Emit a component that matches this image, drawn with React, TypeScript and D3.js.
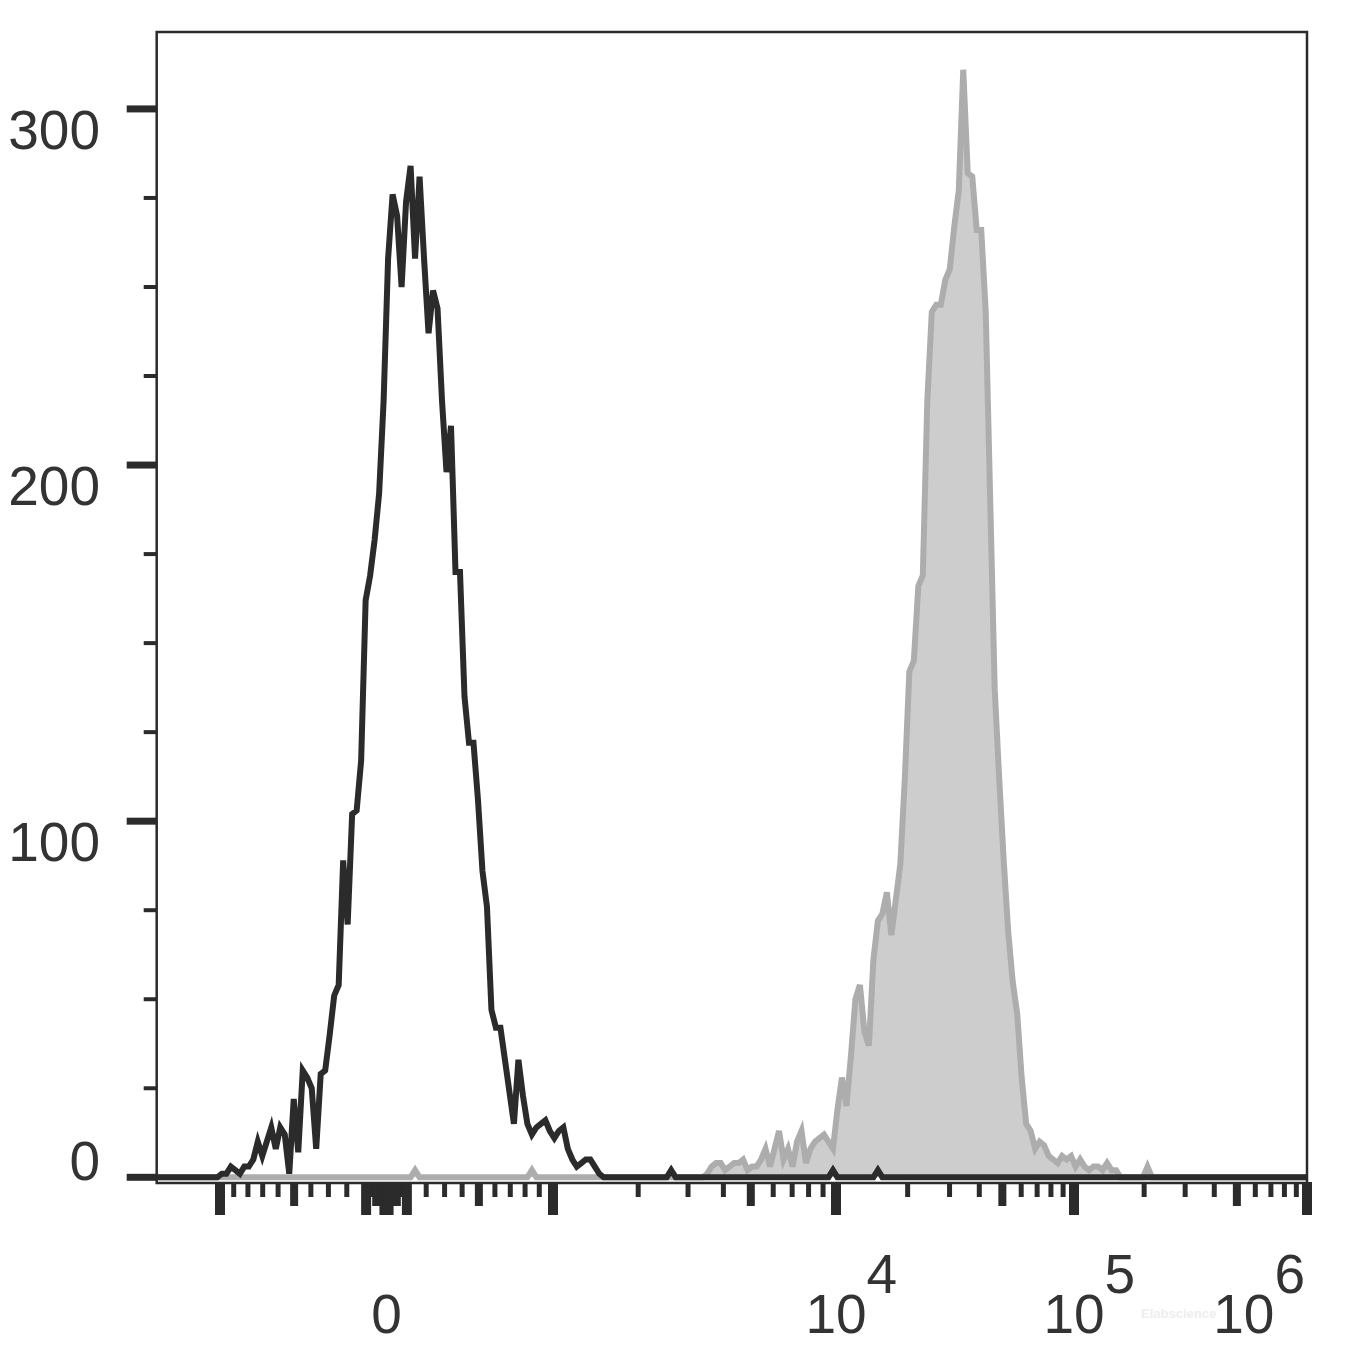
import React from "react";
import * as d3 from "d3";

// ---- data -----------------------------------------------------------
const CHANNELS = 256; // histogram bins, uniform in display (biexponential) space
const X_MIN = -2400;
const X_MAX = 1e6;
const Y_MIN = -1.6;
const Y_MAX = 321.6;

const yTickMajor = [0, 100, 200, 300];
const yTickMinor = [25, 50, 75, 125, 150, 175, 225, 250, 275];

const xMajor = [-1000, -100, -10, 0, 10, 100, 1000, 1e4, 1e5, 1e6];
const xMedium = [-500, -50, -5, 5, 50, 500, 5000, 5e4, 5e5];
const xMinorMultipliers = [2, 3, 4, 6, 7, 8, 9];
const xMinorDecades = [1, 10, 100, 1000, 1e4, 1e5];

const xLabels = [
  { value: 0, base: "0", exp: "" },
  { value: 1e4, base: "10", exp: "4" },
  { value: 1e5, base: "10", exp: "5" },
  { value: 1e6, base: "10", exp: "6" },
];

// unstained control (black outline) — counts from channel 14
const blackStart = 14;
const blackCounts = [
  1, 1, 3, 2, 1, 3, 3, 5, 10, 6, 10, 14, 8, 14, 12, 1, 22, 7, 30, 28,
  25, 8, 29, 30, 40, 51, 54, 89, 71, 102, 103, 117, 162, 169, 179, 192, 218, 258, 276, 270,
  250, 274, 284, 258, 281, 258, 237, 249, 244, 218, 198, 211, 170, 170, 135, 122, 122, 106, 86, 76,
  47, 42, 42, 33, 24, 15, 33, 23, 15, 12, 14, 15, 16, 13, 11, 13, 14, 8, 5, 3,
  4, 5, 5, 3, 1, 0,
];
const blackSparse: [number, number][] = [[114, 2], [150, 2], [160, 2]];

// stained sample (grey filled) — counts from channel 122
const grayStart = 122;
const grayCounts = [
  1, 3, 4, 4, 2, 3, 4, 4, 5, 2, 3, 3, 5, 8, 3, 8, 13, 5, 8, 3,
  10, 13, 4, 8, 10, 11, 12, 10, 8, 19, 28, 20, 34, 50, 54, 41, 37, 61, 72, 74,
  80, 68, 78, 88, 112, 142, 145, 166, 169, 218, 243, 245, 245, 252, 255, 267, 277, 311, 282, 281,
  266, 266, 243, 190, 137, 112, 89, 69, 55, 46, 28, 15, 13, 8, 10, 9, 6, 5, 4, 6,
  5, 6, 3, 5, 3, 2, 3, 3, 2, 4, 2, 2,
];
const graySparse: [number, number][] = [[57, 2], [83, 2], [220, 3]];

// ---- helpers --------------------------------------------------------
const LIN_C = 1800; // width of the near-linear region around zero
const LIN_NORM = Math.log1p(1000 / LIN_C);

// value -> display units (±1 = ±10^3, 2 = 10^4, 3 = 10^5, 4 = 10^6)
function biex(v: number): number {
  const a = Math.abs(v);
  const s = Math.sign(v);
  if (a <= 1000) return (s * Math.log1p(a / LIN_C)) / LIN_NORM;
  return s * (1 + Math.log10(a / 1000));
}

function fullCounts(start: number, arr: number[], sparse: [number, number][]) {
  const c = new Array(CHANNELS).fill(0);
  arr.forEach((v, i) => (c[start + i] = v));
  sparse.forEach(([ch, v]) => (c[ch] = v));
  return c;
}

export default function App() {
  const W = 1346;
  const H = 1348;
  const top = 32;
  const bottom = 1183;
  const ink = "#2b2b2b";

  const x = d3
    .scaleLinear()
    .domain([-1, 0, 1, 2, 3, 4])
    .range([220, 386.5, 553, 836, 1074, 1307]);
  const left = x(biex(X_MIN));
  const right = x(biex(X_MAX));
  const ch = d3.scaleLinear().domain([0, CHANNELS]).range([left, right]);
  const y = d3.scaleLinear().domain([Y_MIN, Y_MAX]).range([bottom, top]);

  const toPts = (counts: number[]) => {
    const pts: [number, number][] = [[0, 0]];
    counts.forEach((n, i) => pts.push([i + 0.5, n]));
    pts.push([CHANNELS, 0]);
    return pts;
  };
  const black = toPts(fullCounts(blackStart, blackCounts, blackSparse));
  const gray = toPts(fullCounts(grayStart, grayCounts, graySparse));

  const line = d3
    .line<[number, number]>()
    .x((d) => ch(d[0]))
    .y((d) => y(d[1]));
  const area = d3
    .area<[number, number]>()
    .x((d) => ch(d[0]))
    .y0(y(0))
    .y1((d) => y(d[1]));

  const minorVals: number[] = [];
  xMinorDecades.forEach((d) =>
    xMinorMultipliers.forEach((m) => {
      const v = m * d;
      if (v <= X_MAX) minorVals.push(v);
      if (-v >= -1000) minorVals.push(-v);
    })
  );

  const xTick = (v: number, len: number, w: number, key: string) => (
    <line
      key={key}
      x1={x(biex(v))}
      x2={x(biex(v))}
      y1={bottom - 1}
      y2={bottom + len}
      stroke={ink}
      strokeWidth={w}
    />
  );

  const fontFamily = "'Liberation Sans', Arial, Helvetica, sans-serif";
  const fs = 55;
  const tenW = 0.556 * fs * 2;
  const digitW = 0.556 * fs;

  return (
    <svg
      width={W}
      height={H}
      style={{ position: "absolute", left: 0, top: 0, display: "block", background: "#fff" }}
    >
      <rect x={0} y={0} width={W} height={H} fill="#fff" />

      {/* grey filled histogram */}
      <path d={area(gray) || ""} fill="#cdcdcd" stroke="none" />
      <path
        d={line(gray) || ""}
        fill="none"
        stroke="#adadad"
        strokeWidth={6}
        strokeLinejoin="miter"
      />
      {/* black outline histogram */}
      <path
        d={line(black) || ""}
        fill="none"
        stroke={ink}
        strokeWidth={6}
        strokeLinejoin="miter"
      />

      {/* frame */}
      <rect
        x={left}
        y={top}
        width={right - left}
        height={bottom - top}
        fill="none"
        stroke={ink}
        strokeWidth={2.5}
      />

      {/* y ticks */}
      {yTickMinor.map((v) => (
        <line key={"ym" + v} x1={left - 13} x2={left} y1={y(v)} y2={y(v)} stroke={ink} strokeWidth={4} />
      ))}
      {yTickMajor.map((v) => (
        <line key={"yM" + v} x1={left - 30} x2={left} y1={y(v)} y2={y(v)} stroke={ink} strokeWidth={7} />
      ))}
      {yTickMajor.map((v) => (
        <text
          key={"yl" + v}
          x={100}
          y={v === 0 ? y(v) + 3 : y(v) + 40}
          textAnchor="end"
          fontFamily={fontFamily}
          fontSize={fs}
          fill="#333"
        >
          {v}
        </text>
      ))}

      {/* x ticks */}
      {minorVals.map((v, i) => xTick(v, 14, 5, "xm" + i))}
      {xMedium.map((v, i) => xTick(v, 23, 8, "xd" + i))}
      {xMajor.map((v, i) => xTick(v, 32, 10, "xM" + i))}

      {/* x labels */}
      {xLabels.map((l) => {
        const px = x(biex(l.value));
        if (!l.exp) {
          return (
            <text
              key={"xl" + l.value}
              x={px}
              y={1333}
              textAnchor="middle"
              fontFamily={fontFamily}
              fontSize={fs}
              fill="#333"
            >
              {l.base}
            </text>
          );
        }
        const start = Math.min(px - tenW / 2, right - 2 - tenW - digitW);
        return (
          <text
            key={"xl" + l.value}
            x={start}
            y={1333}
            fontFamily={fontFamily}
            fontSize={fs}
            fill="#333"
          >
            <tspan>{l.base}</tspan>
            <tspan dy={-40}>{l.exp}</tspan>
          </text>
        );
      })}

      {/* faint watermark, fitted between the 10^5 and 10^6 labels */}
      <text
        x={1141}
        y={1318}
        fontFamily={fontFamily}
        fontSize={13}
        fontWeight="bold"
        fill="#eeeeee"
      >
        Elabscience
      </text>
    </svg>
  );
}
